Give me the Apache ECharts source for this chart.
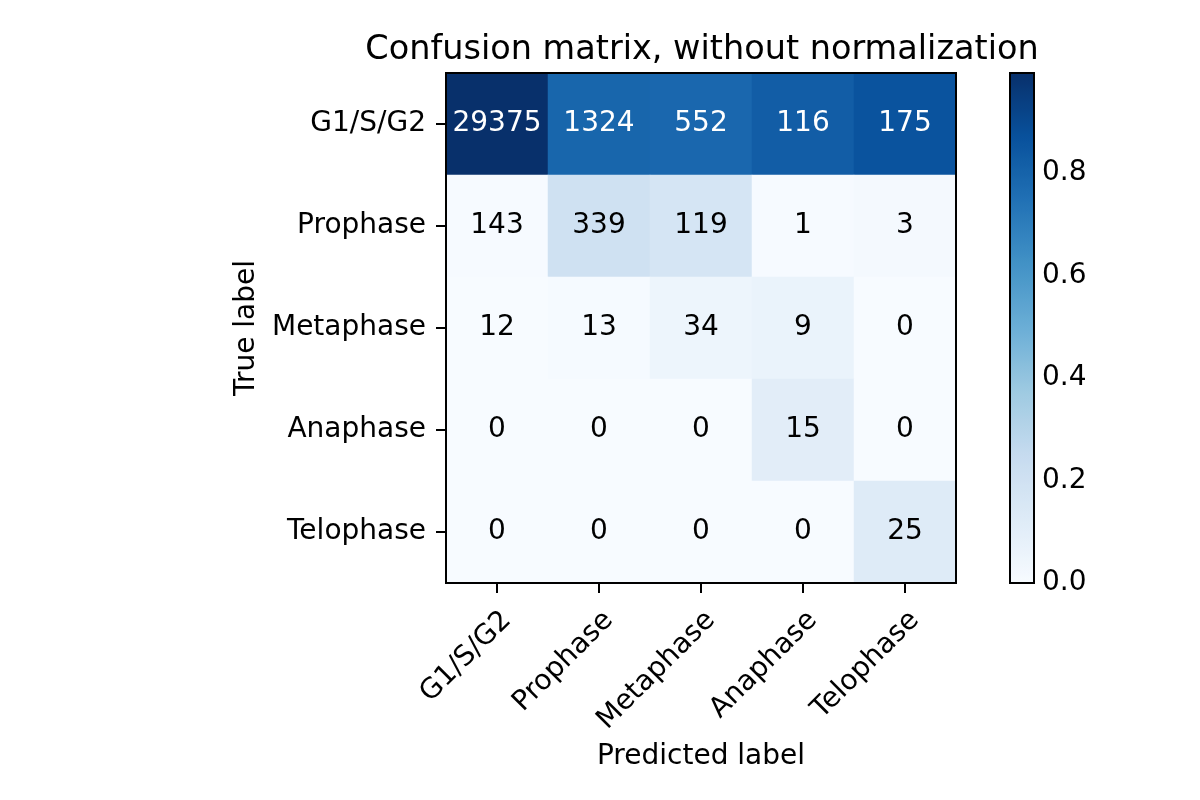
<!DOCTYPE html>
<html>
<head>
<meta charset="utf-8">
<script src="https://cdn.jsdelivr.net/npm/echarts@6/dist/echarts.min.js"></script>
<style>
  html, body { margin: 0; padding: 0; background: #fff; }
  #chart { width: 1200px; height: 800px; }
</style>
</head>
<body>
<div id="chart"></div>
<script>
// class names, true label rows / predicted label columns
var classes = ['G1/S/G2', 'Prophase', 'Metaphase', 'Anaphase', 'Telophase'];

// counts, one array per true label
var rowG1 = [29375, 1324, 552, 116, 175];
var rowPro = [143, 339, 119, 1, 3];
var rowMeta = [12, 13, 34, 9, 0];
var rowAna = [0, 0, 0, 15, 0];
var rowTelo = [0, 0, 0, 0, 25];

var colorbarTicks = [0.0, 0.2, 0.4, 0.6, 0.8];

var blues = ['#f7fbff', '#deebf7', '#c6dbef', '#9ecae1', '#6baed6', '#4292c6', '#2171b5', '#08519c', '#08306b'];

var rows = [rowG1, rowPro, rowMeta, rowAna, rowTelo];

// colour follows the share of each column
var colSums = [];
for (var j = 0; j < classes.length; j++) {
	var s = 0;
	for (var i = 0; i < rows.length; i++) s += rows[i][j];
	colSums.push(s);
}
var cells = [];
var vmax = 0;
for (var i = 0; i < rows.length; i++) {
	for (var j = 0; j < classes.length; j++) {
		var frac = colSums[j] ? rows[i][j] / colSums[j] : 0;
		if (frac > vmax) vmax = frac;
		cells.push({
			value: [j, i, frac, rows[i][j]],
			label: { color: frac > 0.5 ? '#ffffff' : '#000000' }
		});
	}
}

var font = 'DejaVu Sans';
var myChart = echarts.init(document.getElementById('chart'));

var option = {
	backgroundColor: '#ffffff',
	animation: false,
	textStyle: { fontFamily: font },
	title: {
		text: 'Confusion matrix, without normalization',
		left: 697,
		top: 28,
		textAlign: 'center',
		textStyle: { fontFamily: font, fontSize: 33.5, fontWeight: 'normal', color: '#000' }
	},
	grid: [
		{ left: 446, top: 73, width: 510, height: 510, show: true, z: 10,
		  borderColor: '#000', borderWidth: 2, backgroundColor: 'transparent' },
		{ left: 1010, top: 73, width: 24, height: 510, show: true, z: 10,
		  borderColor: '#000', borderWidth: 2, backgroundColor: 'transparent' }
	],
	xAxis: [
		{
			type: 'category',
			gridIndex: 0,
			data: classes,
			name: 'Predicted label',
			nameLocation: 'middle',
			nameGap: 160,
			nameTextStyle: { fontFamily: font, fontSize: 28, color: '#000' },
			axisLine: { show: true, lineStyle: { color: '#000', width: 2 } },
			axisTick: { show: true, alignWithLabel: true, length: 10, lineStyle: { color: '#000', width: 2 } },
			axisLabel: { rotate: 45, margin: 23, verticalAlign: 'top', fontFamily: font, fontSize: 28, color: '#000' },
			splitLine: { show: false }
		},
		{ type: 'value', gridIndex: 1, min: 0, max: 1, show: false }
	],
	yAxis: [
		{
			type: 'category',
			gridIndex: 0,
			data: classes,
			inverse: true,
			name: 'True label',
			nameLocation: 'middle',
			nameRotate: 90,
			nameGap: 185,
			nameTextStyle: { fontFamily: font, fontSize: 28, color: '#000' },
			axisLine: { show: true, lineStyle: { color: '#000', width: 2 } },
			axisTick: { show: true, alignWithLabel: true, length: 10, lineStyle: { color: '#000', width: 2 } },
			axisLabel: { margin: 20, padding: [12, 0, 0, 0], fontFamily: font, fontSize: 28, color: '#000' },
			splitLine: { show: false }
		},
		{
			type: 'value',
			gridIndex: 1,
			position: 'right',
			min: 0,
			max: vmax,
			interval: 0.2,
			axisLine: { show: true, lineStyle: { color: '#000', width: 2 } },
			axisTick: { show: true, length: 10, lineStyle: { color: '#000', width: 2 } },
			axisLabel: {
				margin: 8, fontFamily: font, fontSize: 28, color: '#000',
				showMaxLabel: false,
				formatter: function (v) {
					return colorbarTicks.indexOf(Math.round(v * 10) / 10) >= 0 ? v.toFixed(1) : '';
				}
			},
			splitLine: { show: false }
		}
	],
	visualMap: {
		type: 'continuous',
		seriesIndex: 0,
		dimension: 2,
		min: 0,
		max: vmax,
		calculable: false,
		left: 1010,
		top: 73,
		padding: 0,
		itemWidth: 24,
		itemHeight: 510,
		text: null,
		showLabel: false,
		inRange: { color: blues }
	},
	series: [
		{
			type: 'heatmap',
			xAxisIndex: 0,
			yAxisIndex: 0,
			data: cells,
			label: {
				show: true,
				fontFamily: font,
				fontSize: 28,
				padding: [6, 0, 0, 0],
				formatter: function (p) { return p.value[3]; }
			},
			itemStyle: { borderWidth: 0 }
		},
		{
			type: 'scatter',
			xAxisIndex: 1,
			yAxisIndex: 1,
			data: []
		}
	]
};

myChart.setOption(option);
</script>
</body>
</html>
